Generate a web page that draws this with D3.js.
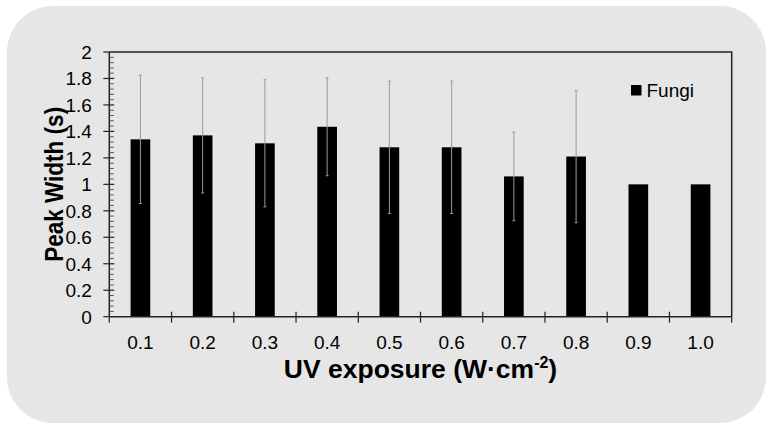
<!DOCTYPE html>
<html><head><meta charset="utf-8">
<script src="https://cdn.jsdelivr.net/npm/d3@7"></script>
<style>body{margin:0;background:#fff}svg{display:block}</style>
</head><body>
<script>
const categories = ["0.1","0.2","0.3","0.4","0.5","0.6","0.7","0.8","0.9","1.0"];
const values = [1.34,1.37,1.31,1.435,1.28,1.28,1.06,1.21,1.0,1.0];
const errors = [0.485,0.435,0.48,0.37,0.50,0.50,0.335,0.50,0,0];
const yTicks = [0,0.2,0.4,0.6,0.8,1,1.2,1.4,1.6,1.8,2];
const seriesName = "Fungi";

const W=772,H=429;
const m={l:109.3,r:731.7,t:52,b:316.7};
const svg=d3.select("body").append("svg").attr("width",W).attr("height",H);
svg.append("rect").attr("x",7).attr("y",6).attr("width",759).attr("height",417)
  .attr("rx",46).attr("ry",46).attr("fill","#e6e6e6");

const x=d3.scaleBand().domain(categories).range([m.l,m.r]).paddingInner(0.684).paddingOuter(0.342);
const y=d3.scaleLinear().domain([0,2]).range([m.b,m.t]);
const font="Liberation Sans, Arial, sans-serif";

// bars
svg.append("g").selectAll("rect").data(values).join("rect")
  .attr("x",(d,i)=>x(categories[i])).attr("width",x.bandwidth())
  .attr("y",d=>y(d)).attr("height",d=>y(0)-y(d)).attr("fill","#000");

// error bars
const eg=svg.append("g").attr("stroke","#9a9a9a").attr("stroke-width",1);
values.forEach((v,i)=>{
  if(!errors[i])return;
  const cx=x(categories[i])+x.bandwidth()/2;
  eg.append("line").attr("x1",cx).attr("x2",cx).attr("y1",y(v-errors[i])).attr("y2",y(v+errors[i]));
  [v-errors[i],v+errors[i]].forEach(e=>eg.append("line").attr("x1",cx-1.5).attr("x2",cx+1.5).attr("y1",y(e)).attr("y2",y(e)));
});

// box top/right
svg.append("path").attr("d",`M${m.l},${m.t}H${m.r}V${m.b}`).attr("fill","none").attr("stroke","#222").attr("stroke-width",1.5);

// y axis
const ya=svg.append("g").attr("transform",`translate(${m.l},0)`);
ya.append("line").attr("y1",m.t).attr("y2",m.b).attr("stroke","#222").attr("stroke-width",1.5);
d3.range(0,100).forEach(k=>{
  const v=k*0.04; if(v>2.0001)return;
  if(k%5===0)return;
  ya.append("line").attr("x1",0).attr("x2",4.5).attr("y1",y(v)).attr("y2",y(v)).attr("stroke","#555").attr("stroke-width",1);
});
yTicks.forEach(t=>{
  ya.append("line").attr("x1",-6).attr("x2",t>0&&t<2?5:0).attr("y1",y(t)).attr("y2",y(t)).attr("stroke","#222").attr("stroke-width",1.2);
  ya.append("text").attr("x",-17.5).attr("y",y(t)).attr("dy","0.36em").attr("text-anchor","end")
    .attr("font-family",font).attr("font-size",19).attr("fill","#000").text(d3.format("~g")(t));
});

// x axis
const xa=svg.append("g");
xa.append("line").attr("x1",m.l).attr("x2",m.r).attr("y1",m.b).attr("y2",m.b).attr("stroke","#222").attr("stroke-width",1.5);
const step=x.step();
d3.range(categories.length+1).forEach(k=>{
  const xx=m.l+k*step;
  xa.append("line").attr("x1",xx).attr("x2",xx).attr("y1",(k===0||k===categories.length)?m.b:m.b-5).attr("y2",m.b+6).attr("stroke","#222").attr("stroke-width",1.2);
});
categories.forEach(c=>{
  xa.append("text").attr("x",x(c)+x.bandwidth()/2).attr("y",348.5).attr("text-anchor","middle")
    .attr("font-family",font).attr("font-size",19).attr("fill","#000").text(c);
});

// titles
const xt=svg.append("text").attr("x",(m.l+m.r)/2).attr("y",378).attr("text-anchor","middle")
  .attr("font-family",font).attr("font-weight","bold").attr("font-size",26.5).attr("fill","#000");
xt.append("tspan").text("UV exposure (W·cm");
xt.append("tspan").attr("dy",-10).attr("font-size",16).text("-2");
xt.append("tspan").attr("dy",10).text(")");

svg.append("text").attr("transform",`translate(63,${(m.t+m.b)/2}) rotate(-90)`).attr("text-anchor","middle")
  .attr("font-family",font).attr("font-weight","bold").attr("font-size",25).attr("fill","#000")
  .attr("textLength",155).attr("lengthAdjust","spacingAndGlyphs").text("Peak Width (s)");

// legend
svg.append("rect").attr("x",631).attr("y",85).attr("width",10.5).attr("height",10.5).attr("fill","#000");
svg.append("text").attr("x",646.5).attr("y",96.5).attr("font-family",font).attr("font-size",19).attr("fill","#000").text(seriesName);
</script>
</body></html>
